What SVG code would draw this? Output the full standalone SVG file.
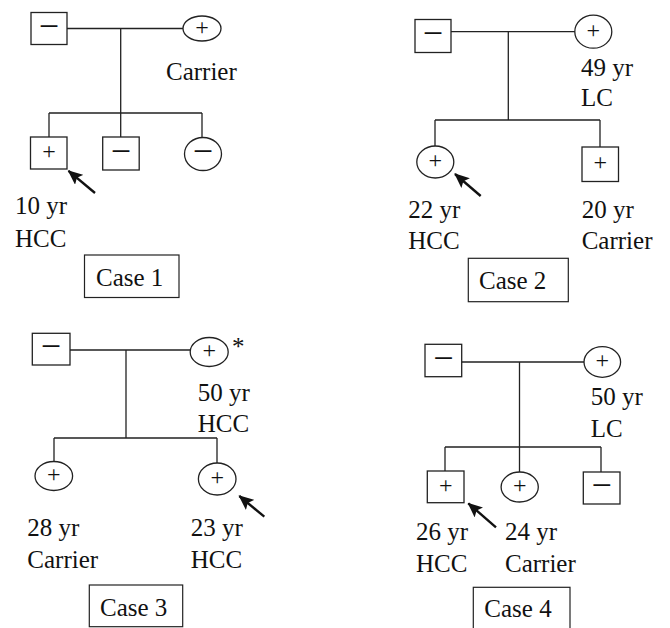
<svg xmlns="http://www.w3.org/2000/svg" width="670" height="628" viewBox="0 0 670 628" font-family="'Liberation Serif', 'Times New Roman', serif">
<style>
.n{fill:#fff;stroke:#222;stroke-width:1.3}
.c{stroke:#222;stroke-width:1.3;fill:none}
.t{font-size:25px;fill:#111}
.s{fill:#111;text-anchor:middle}
.p{font-size:24px}
.m{font-size:36px}
.ar{stroke:#111;stroke-width:2.4;fill:none}
.box{fill:#fff;stroke:#222;stroke-width:1.2}
</style>
<defs>
<marker id="ah" markerWidth="15" markerHeight="13" refX="14" refY="6.5" orient="auto" markerUnits="userSpaceOnUse">
<path d="M0,0 L15,6.5 L0,13 L3,6.5 z" fill="#111"/>
</marker>
</defs>
<rect width="670" height="628" fill="#fff"/>

<g id="connectors">
<path class="c" d="M67,28.5 H183 M120.7,28.5 V113 M49,113 H202 M49,113 V137 M120.7,113 V137 M202,113 V137"/>
<path class="c" d="M451,31.7 H575 M508.3,31.7 V120 M435,120 H600 M435,120 V146 M600,120 V147"/>
<path class="c" d="M70,350 H190 M126,350 V438 M54,438 H217 M54,438 V462 M217,438 V463"/>
<path class="c" d="M462,362 H584 M519.5,362 V472 M445,447 H601 M445,447 V471 M601,447 V472"/>
<line class="ar" x1="95" y1="193" x2="68.5" y2="170.8" marker-end="url(#ah)"/>
<line class="ar" x1="480.7" y1="196" x2="455" y2="174" marker-end="url(#ah)"/>
<line class="ar" x1="264.3" y1="516.7" x2="239.3" y2="496" marker-end="url(#ah)"/>
<line class="ar" x1="496" y1="527.3" x2="468.3" y2="503.3" marker-end="url(#ah)"/>
</g>

<g id="c1-father"><rect class="n" x="31" y="12.5" width="36" height="32"/><text class="s m" x="49" y="37.5">−</text></g>
<g id="c1-mother"><ellipse class="n" cx="202" cy="28.5" rx="19" ry="12.5"/><text class="s p" x="202" y="34.5">+</text><text class="t" x="166" y="80">Carrier</text></g>
<g id="c1-son1"><rect class="n" x="30.5" y="137" width="36.5" height="32"/><text class="s p" x="49" y="159">+</text><text class="t" x="15" y="214">10 yr</text><text class="t" x="15" y="246.5">HCC</text></g>
<g id="c1-son2"><rect class="n" x="102.7" y="137" width="36.5" height="33"/><text class="s m" x="121" y="162.5">−</text></g>
<g id="c1-daughter"><ellipse class="n" cx="203" cy="154" rx="18.5" ry="16.5"/><text class="s m" x="203" y="163">−</text></g>
<g id="case1"><rect class="box" x="84.5" y="255" width="94.5" height="42.5"/><text class="t" x="96" y="286">Case 1</text></g>

<g id="c2-father"><rect class="n" x="415" y="19.5" width="36" height="33"/><text class="s m" x="433" y="45">−</text></g>
<g id="c2-mother"><ellipse class="n" cx="593.3" cy="31.7" rx="18.5" ry="16.5"/><text class="s p" x="593.3" y="37.7">+</text><text class="t" x="581" y="76">49 yr</text><text class="t" x="581" y="106">LC</text></g>
<g id="c2-daughter"><ellipse class="n" cx="435.3" cy="162" rx="18.5" ry="16"/><text class="s p" x="435.3" y="168">+</text><text class="t" x="408.3" y="218">22 yr</text><text class="t" x="408.3" y="249">HCC</text></g>
<g id="c2-son"><rect class="n" x="582" y="147" width="36.5" height="34.5"/><text class="s p" x="600.3" y="170">+</text><text class="t" x="581.7" y="218">20 yr</text><text class="t" x="581.7" y="249">Carrier</text></g>
<g id="case2"><rect class="box" x="468.3" y="258.3" width="100" height="43.4"/><text class="t" x="479" y="289.3">Case 2</text></g>

<g id="c3-father"><rect class="n" x="32.3" y="333.3" width="37.7" height="31.7"/><text class="s m" x="51" y="358">−</text></g>
<g id="c3-mother"><ellipse class="n" cx="209.2" cy="352" rx="19" ry="14.5"/><text class="s p" x="209.2" y="358">+</text><text class="t" x="232" y="355" font-size="30">*</text><text class="t" x="197.7" y="400.7">50 yr</text><text class="t" x="197.7" y="431.7">HCC</text></g>
<g id="c3-daughter1"><ellipse class="n" cx="53.8" cy="476" rx="18.8" ry="14.5"/><text class="s p" x="53.8" y="482">+</text><text class="t" x="27.3" y="536">28 yr</text><text class="t" x="27.3" y="568.3">Carrier</text></g>
<g id="c3-daughter2"><ellipse class="n" cx="217.2" cy="479" rx="18.8" ry="16"/><text class="s p" x="217.2" y="485">+</text><text class="t" x="190.7" y="536">23 yr</text><text class="t" x="190.7" y="568.3">HCC</text></g>
<g id="case3"><rect class="box" x="89.3" y="585" width="93.4" height="41.7"/><text class="t" x="100" y="616">Case 3</text></g>

<g id="c4-father"><rect class="n" x="425" y="344.3" width="36.7" height="32.4"/><text class="s m" x="443.3" y="369.5">−</text></g>
<g id="c4-mother"><ellipse class="n" cx="602.3" cy="362" rx="18.3" ry="15.3"/><text class="s p" x="602.3" y="368">+</text><text class="t" x="590.7" y="405">50 yr</text><text class="t" x="590.7" y="436.7">LC</text></g>
<g id="c4-son1"><rect class="n" x="427.3" y="471" width="36.7" height="31.7"/><text class="s p" x="445.7" y="493">+</text><text class="t" x="416" y="540">26 yr</text><text class="t" x="416" y="571.7">HCC</text></g>
<g id="c4-daughter"><ellipse class="n" cx="519.7" cy="487" rx="18.6" ry="15"/><text class="s p" x="519.7" y="493">+</text><text class="t" x="505" y="540">24 yr</text><text class="t" x="505" y="571.7">Carrier</text></g>
<g id="c4-son2"><rect class="n" x="583.3" y="472" width="36.7" height="32"/><text class="s m" x="601.7" y="497">−</text></g>
<g id="case4"><rect class="box" x="473.3" y="587.3" width="96.7" height="45"/><text class="t" x="484.3" y="617.3">Case 4</text></g>
</svg>
